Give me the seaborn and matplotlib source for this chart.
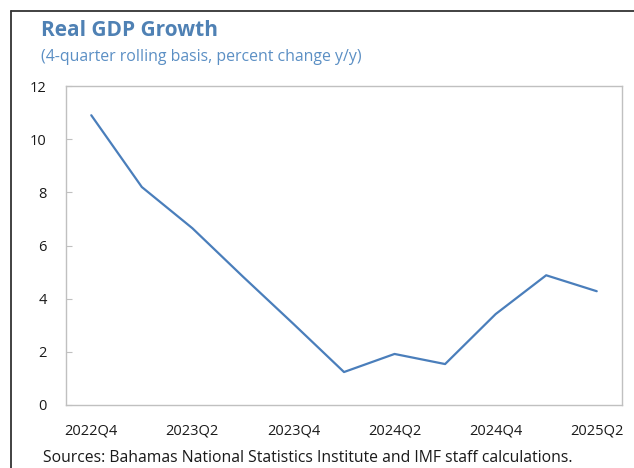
import matplotlib
matplotlib.use("Agg")
import matplotlib.pyplot as plt
import seaborn as sns
import pandas as pd

# Real GDP growth, 4-quarter rolling basis (percent change y/y)
quarters = ["2022Q4", "2023Q1", "2023Q2", "2023Q3", "2023Q4", "2024Q1",
            "2024Q2", "2024Q3", "2024Q4", "2025Q1", "2025Q2"]
growth = [10.9, 8.2, 6.65, 4.83, 3.05, 1.24, 1.92, 1.54, 3.42, 4.88, 4.28]
y_ticks = [0, 2, 4, 6, 8, 10, 12]

title = "Real GDP Growth"
subtitle = "(4-quarter rolling basis, percent change y/y)"
source = "Sources: Bahamas National Statistics Institute and IMF staff calculations."

sns.set_theme(style="white")
plt.rcParams["font.family"] = ["Open Sans", "DejaVu Sans"]

df = pd.DataFrame({"quarter": quarters, "growth": growth})
df["pos"] = range(len(df))

fig = plt.figure(figsize=(6.34, 4.68), dpi=100)
ax = fig.add_axes([66 / 634, (468 - 405) / 468, 556 / 634, 319 / 468])

sns.lineplot(data=df, x="pos", y="growth", ax=ax, color="#4A7EBB", linewidth=1.6)

ax.set_xlim(-0.5, len(quarters) - 0.5)
ax.set_ylim(0, 12)
ax.set_yticks(y_ticks)
ax.set_yticklabels([str(t) for t in y_ticks])
ax.set_xticks(df["pos"][::2])
ax.set_xticklabels(quarters[::2])
ax.set_xlabel("")
ax.set_ylabel("")

for s in ax.spines.values():
    s.set_visible(True)
    s.set_color("#C0C0C0")
    s.set_linewidth(1.0)

ax.tick_params(axis="y", direction="in", length=4.5, width=0.8, color="#C0C0C0",
               labelsize=10.5, labelcolor="#1a1a1a", pad=14, left=True)
ax.tick_params(axis="x", length=0, labelsize=10.5, labelcolor="#1a1a1a", pad=13)

# Headings
fig.text(41 / 634, 1 - 30 / 468, title, fontsize=15, fontweight="bold",
         color="#4F81B4", ha="left", va="center")
fig.text(41 / 634, 1 - 57 / 468, subtitle, fontsize=11.4,
         color="#5B8FC4", ha="left", va="center")
fig.text(43 / 634, 1 - 458 / 468, source, fontsize=11.3,
         color="#1a1a1a", ha="left", va="center")

# Frame lines around the exhibit
fig.add_artist(plt.Line2D([11 / 634, 1.0], [1 - 11 / 468, 1 - 11 / 468],
                          transform=fig.transFigure, color="#333333", linewidth=1.3))
fig.add_artist(plt.Line2D([11 / 634, 11 / 634], [1 - 11 / 468, 0.0],
                          transform=fig.transFigure, color="#333333", linewidth=1.3))

fig.savefig("out.png", dpi=100)
